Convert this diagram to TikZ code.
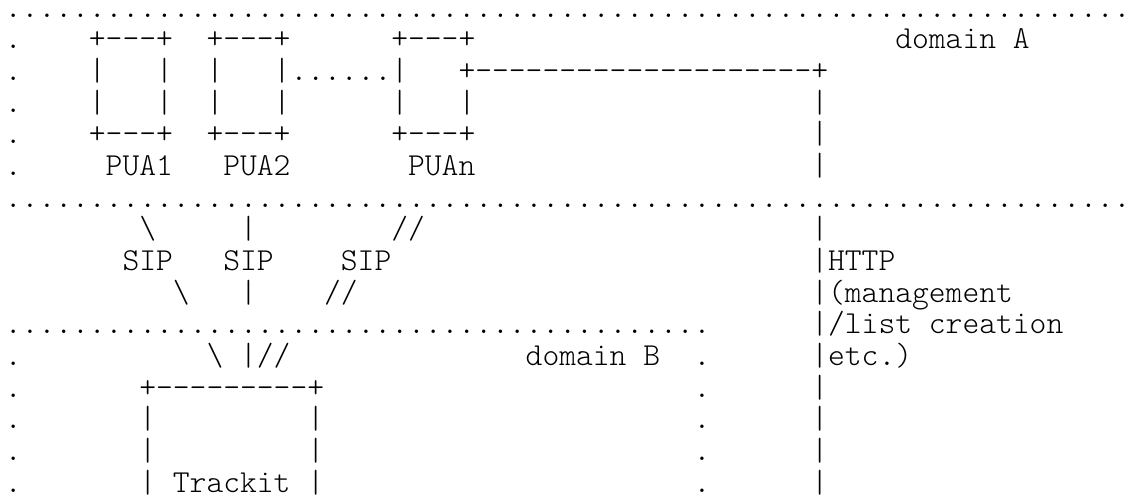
\documentclass[tikz,border=0pt]{standalone}
\newcommand\dotrun[1]{\foreach \i in {1,...,#1}{.}}
\begin{document}
\begin{tikzpicture}[x=16.8pt,y=-31.67pt,
  ch/.style={anchor=base west, inner sep=0pt, outer sep=0pt,
             font=\ttfamily\fontseries{l}\fontsize{32}{36}\selectfont}]
\path[use as bounding box, fill=white] (0pt,0pt) rectangle (1133pt,-496pt);
\begin{scope}[shift={(4.9pt,-17pt)}]
% ---- domain A border ----
\node[ch] (topdots) at (0,0) {\dotrun{67}};
\node[ch] (middots) at (0,6) {\dotrun{67}};
\foreach \r in {1,...,5} { \node[ch] (adot\r) at (0,\r) {.}; }
\node[ch] (domA) at (53,1) {domain A};
% ---- PUA boxes ----
\node[ch] (pua1top) at (5,1) {+---+};
\node[ch] (pua2top) at (12,1) {+---+};
\node[ch] (puantop) at (23,1) {+---+};
\foreach \r in {2,3} {
  \node[ch] (pua1l\r) at (5,\r) {|};
  \node[ch] (pua1r\r) at (9,\r) {|};
  \node[ch] (pua2l\r) at (12,\r) {|};
  \node[ch] (pua2r\r) at (16,\r) {|};
  \node[ch] (puanl\r) at (23,\r) {|};
}
\node[ch] (puadots) at (17,2) {\dotrun{6}};
\node[ch] (httptop) at (27,2) {+--------------------+};
\node[ch] (puanr3) at (27,3) {|};
\node[ch] (pua1bot) at (5,4) {+---+};
\node[ch] (pua2bot) at (12,4) {+---+};
\node[ch] (puanbot) at (23,4) {+---+};
\node[ch] (pua1) at (6,5) {PUA1};
\node[ch] (pua2) at (13,5) {PUA2};
\node[ch] (puan) at (24,5) {PUAn};
% ---- HTTP line ----
\foreach \r in {3,4,5,7,8,9,10,11,12,13,14,15} { \node[ch] (http\r) at (48,\r) {|}; }
\node[ch] (httpa) at (49,8) {HTTP};
\node[ch] (httpb) at (49,9) {(management};
\node[ch] (httpc) at (49,10) {/list creation};
\node[ch] (httpd) at (49,11) {etc.)};
% ---- SIP lines ----
\node[ch] (s1a) at (8,7) {\textbackslash};
\node[ch] (s2a) at (14,7) {|};
\node[ch] (s3a) at (23,7) {//};
\node[ch] (sip1) at (7,8) {SIP};
\node[ch] (sip2) at (13,8) {SIP};
\node[ch] (sip3) at (20,8) {SIP};
\node[ch] (s1b) at (10,9) {\textbackslash};
\node[ch] (s2b) at (14,9) {|};
\node[ch] (s3b) at (19,9) {//};
% ---- domain B border ----
\node[ch] (bdots) at (0,10) {\dotrun{42}};
\foreach \r in {11,...,15} {
  \node[ch] (bl\r) at (0,\r) {.};
  \node[ch] (br\r) at (41,\r) {.};
}
\node[ch] (sipin) at (12,11) {\textbackslash{} |//};
\node[ch] (domB) at (31,11) {domain B};
% ---- Trackit box ----
\node[ch] (tktop) at (8,12) {+---------+};
\foreach \r in {13,14} {
  \node[ch] (tkl\r) at (8,\r) {|};
  \node[ch] (tkr\r) at (18,\r) {|};
}
\node[ch] (trackit) at (8,15) {| Trackit |};
\end{scope}
\end{tikzpicture}
\end{document}
